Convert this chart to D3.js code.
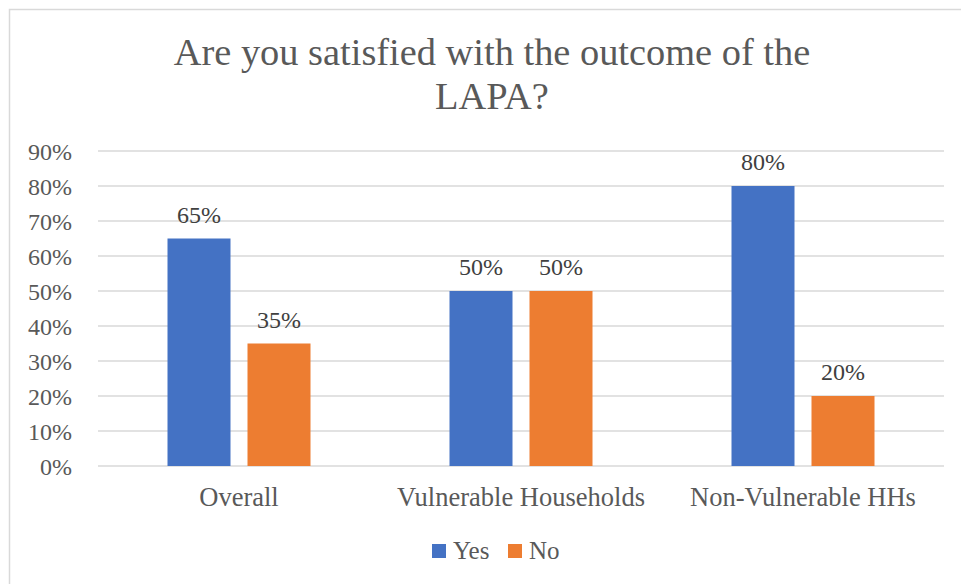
<!DOCTYPE html>
<html>
<head>
<meta charset="utf-8">
<script src="https://cdn.jsdelivr.net/npm/d3@7"></script>
<style>
  html, body { margin: 0; padding: 0; background: #fff; }
  svg { display: block; }
</style>
</head>
<body>
<svg id="chart" width="961" height="584"></svg>
<script>
// Survey responses by group
const categories = ["Overall", "Vulnerable Households", "Non-Vulnerable HHs"];
const seriesNames = ["Yes", "No"];
const yesValues = [0.65, 0.50, 0.80];
const noValues = [0.35, 0.50, 0.20];
const yTicks = [0, 0.1, 0.2, 0.3, 0.4, 0.5, 0.6, 0.7, 0.8, 0.9];
const colors = ["#4472C4", "#ED7D31"];
const titleLines = ["Are you satisfied with the outcome of the", "LAPA?"];

const FONT = '"Liberation Serif"';
const rows = categories.map((c, i) => ({ category: c, values: [yesValues[i], noValues[i]] }));

const svg = d3.select("#chart");
const W = 961, H = 584;

// outer frame (top and left edges visible)
svg.append("rect")
  .attr("x", 9.5).attr("y", 9.5)
  .attr("width", W + 20).attr("height", H + 20)
  .attr("fill", "#fff").attr("stroke", "#d9d9d9").attr("stroke-width", 1.5);

const plot = { left: 98, right: 944, top: 151, bottom: 466 };

const x0 = d3.scaleBand().domain(categories).range([plot.left, plot.right]).paddingInner(0).paddingOuter(0);
const x1 = d3.scaleBand().domain(seriesNames).range([0, 143]).paddingInner(17 / 80).paddingOuter(0);
const y = d3.scaleLinear().domain([0, 0.9]).range([plot.bottom, plot.top]);

// title
svg.append("g").selectAll("text").data(titleLines).join("text")
  .attr("x", 492)
  .attr("y", (d, i) => 65 + i * 44)
  .attr("text-anchor", "middle")
  .attr("fill", "#595959")
  .style("font-family", FONT)
  .style("font-size", "38.4px")
  .text(d => d);

// gridlines
svg.append("g").selectAll("line").data(yTicks).join("line")
  .attr("x1", plot.left).attr("x2", plot.right)
  .attr("y1", d => y(d)).attr("y2", d => y(d))
  .attr("stroke", "#d9d9d9").attr("stroke-width", 1.5);

// y labels
const yAxis = d3.axisLeft(y).tickValues(yTicks).tickFormat(d3.format(".0%")).tickSize(0).tickPadding(0);
const yg = svg.append("g").attr("transform", `translate(${plot.left - 26},0)`).call(yAxis);
yg.attr("font-family", null).attr("font-size", null);
yg.select(".domain").remove();
yg.selectAll("text")
  .attr("fill", "#595959").attr("dy", "0.34em")
  .style("font-family", FONT).style("font-size", "24px");

// bars
const groups = svg.append("g").selectAll("g").data(rows).join("g")
  .attr("transform", d => `translate(${x0(d.category) + (x0.bandwidth() - 143) / 2},0)`);

const cells = d => d.values.map((v, i) => ({ key: seriesNames[i], v, i }));

groups.selectAll("rect").data(cells).join("rect")
  .attr("x", d => x1(d.key))
  .attr("width", x1.bandwidth())
  .attr("y", d => y(d.v))
  .attr("height", d => y(0) - y(d.v))
  .attr("fill", d => colors[d.i]);

groups.selectAll("text.lbl").data(cells).join("text")
  .attr("class", "lbl")
  .attr("x", d => x1(d.key) + x1.bandwidth() / 2)
  .attr("y", d => y(d.v) - 16)
  .attr("text-anchor", "middle")
  .attr("fill", "#404040")
  .style("font-family", FONT).style("font-size", "24px")
  .text(d => d3.format(".0%")(d.v));

// x axis labels
const xAxis = d3.axisBottom(x0).tickSize(0).tickPadding(0);
const xg = svg.append("g").attr("transform", `translate(0,${plot.bottom})`).call(xAxis);
xg.attr("font-family", null).attr("font-size", null);
xg.select(".domain").remove();
xg.selectAll("text")
  .attr("fill", "#595959").attr("dy", null).attr("y", 40)
  .style("font-family", FONT).style("font-size", "26.5px");

// legend
const legend = svg.append("g").attr("transform", "translate(432,544)");
const items = legend.selectAll("g").data(seriesNames).join("g")
  .attr("transform", (d, i) => `translate(${i * 76},0)`);
items.append("rect").attr("width", 14).attr("height", 14).attr("fill", (d, i) => colors[i]);
items.append("text").attr("x", 21).attr("y", 15).attr("fill", "#595959")
  .style("font-family", FONT).style("font-size", "25px")
  .text(d => d);
</script>
</body>
</html>
